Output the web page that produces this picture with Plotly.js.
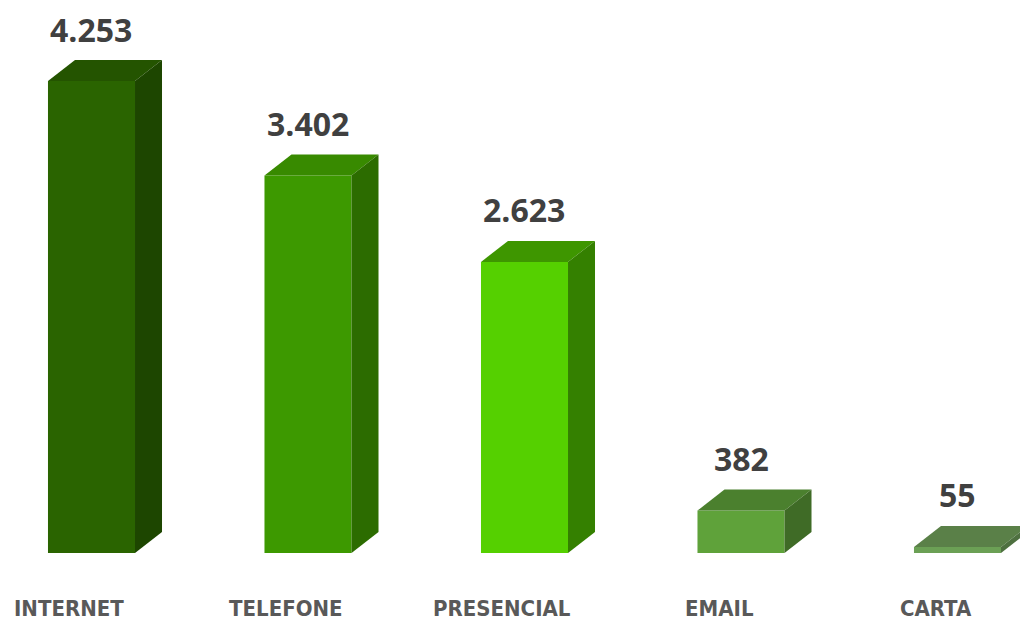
<!DOCTYPE html>
<html>
<head>
<meta charset="utf-8">
<script src="https://cdn.plot.ly/plotly-3.0.1.min.js"></script>
<style>html,body{margin:0;padding:0;background:#fff;}#chart{width:1020px;height:621px;}</style>
</head>
<body>
<div id="chart"></div>
<script>
const categories = ["INTERNET", "TELEFONE", "PRESENCIAL", "EMAIL", "CARTA"];
const values = [4253, 3402, 2623, 382, 55];
const valueLabels = ["4.253", "3.402", "2.623", "382", "55"];
const frontColors = ["#2a6400", "#3d9900", "#55d000", "#5fa23a", "#6ba055"];
const topColors = ["#245400", "#388a00", "#3e9600", "#4b802e", "#5a8048"];
const sideColors = ["#1d4600", "#2c6c00", "#348000", "#3f6b26", "#4e7040"];

const W = 1020, H = 621;
const mL = 0, mR = 0, mT = 0, mB = 68;
const xRange = [-0.4226, 4.2887];
const yRange = [0, 4983];
const pxPerX = (W - mL - mR) / (xRange[1] - xRange[0]);
const pxPerY = (H - mT - mB) / (yRange[1] - yRange[0]);
const barW = 0.402;
const depthX = 27 / pxPerX;
const depthY = 21 / pxPerY;

const traces = [];
const xs = categories.map((c, i) => i);
traces.push({
  type: 'bar', x: xs, y: values, width: barW,
  marker: {color: frontColors, line: {width: 0}},
  hoverinfo: 'skip', showlegend: false
});
values.forEach((v, i) => {
  const l = i - barW / 2, r = i + barW / 2;
  traces.push({
    type: 'scatter', mode: 'lines', fill: 'toself',
    x: [l, r, r + depthX, l + depthX, l],
    y: [v, v, v + depthY, v + depthY, v],
    line: {width: 0, color: topColors[i]}, fillcolor: topColors[i],
    hoverinfo: 'skip', showlegend: false
  });
  traces.push({
    type: 'scatter', mode: 'lines', fill: 'toself',
    x: [r, r + depthX, r + depthX, r, r],
    y: [0, depthY, v + depthY, v, 0],
    line: {width: 0, color: sideColors[i]}, fillcolor: sideColors[i],
    hoverinfo: 'skip', showlegend: false
  });
});

const annotations = [];
values.forEach((v, i) => {
  annotations.push({
    x: i, y: v, xref: 'x', yref: 'y', text: valueLabels[i], showarrow: false,
    yshift: 52, font: {family: 'Open Sans, Liberation Sans, sans-serif', size: 32, color: '#404040', weight: 'bold'}
  });
  annotations.push({
    x: i, y: 0, xref: 'x', yref: 'y', text: categories[i], showarrow: false,
    xshift: -22, yshift: -55, borderpad: 0,
    font: {family: 'Liberation Sans Narrow, DejaVu Sans Condensed, sans-serif', size: 22, color: '#595959', weight: 'bold'}
  });
});

const layout = {
  width: W, height: H,
  margin: {l: mL, r: mR, t: mT, b: mB, pad: 0},
  paper_bgcolor: '#ffffff', plot_bgcolor: '#ffffff',
  xaxis: {range: xRange, showgrid: false, zeroline: false, showticklabels: false, showline: false, fixedrange: true},
  yaxis: {range: yRange, showgrid: false, zeroline: false, showticklabels: false, showline: false, fixedrange: true},
  annotations: annotations,
  showlegend: false
};
Plotly.newPlot('chart', traces, layout, {displayModeBar: false, staticPlot: true});
</script>
</body>
</html>
